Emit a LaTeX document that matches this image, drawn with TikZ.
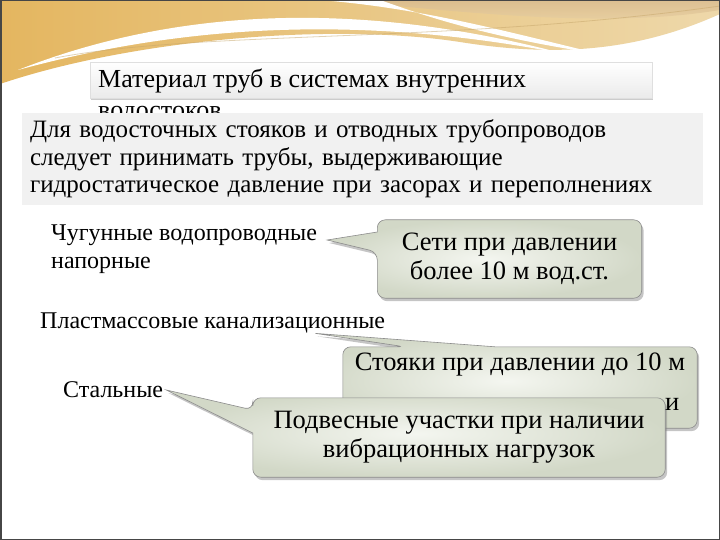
\documentclass[tikz,border=0pt]{standalone}
\usepackage{fontspec}
\setmainfont{Liberation Serif}
\usetikzlibrary{shadows,backgrounds}

\definecolor{goldA}{RGB}{228,182,96}
\definecolor{goldB}{RGB}{238,216,170}
\definecolor{tanA}{RGB}{216,186,142}
\definecolor{noteC}{RGB}{241,241,241}
\definecolor{callA}{RGB}{244,246,240}
\definecolor{callB}{RGB}{210,216,199}
\definecolor{callL}{RGB}{140,140,140}

\begin{document}
\begin{tikzpicture}
  [x=1pt,y=-1pt,
   every node/.style={inner sep=0pt,font=\fontsize{25}{27.5}\selectfont},
   lbl/.style={anchor=west,align=left,font=\fontsize{24}{28}\selectfont},
   bubble/.style={draw=callL,line width=.6pt,inner color=callA,outer color=callB,
     drop shadow={shadow xshift=2pt,shadow yshift=-3pt,opacity=.45}},
   bubtext/.style={align=center,font=\fontsize{26.5}{29}\selectfont}]
  \useasboundingbox (0,0) rectangle (720,540);

  \begin{scope}[on background layer]
  \fill[white] (0,0) rectangle (720,540);
  % top waves
  \shade[left color=goldA,right color=goldB] (0,0) -- (720,0) -- (720,14)
    .. controls (640,50) and (560,58) .. (460,42) .. controls (330,22) and (130,40) .. (0,84) -- cycle;
  \shade[top color=tanA,bottom color=goldB,opacity=.8] (0,0) -- (720,0) -- (720,10)
    .. controls (600,30) and (450,10) .. (330,0) -- cycle;
  \fill[white] (18,70) .. controls (150,18) and (330,-8) .. (565,54)
    .. controls (330,8) and (150,34) .. (18,70) -- cycle;
  \fill[white] (320,0) .. controls (420,8) and (500,30) .. (600,54)
    .. controls (480,36) and (420,14) .. (380,0) -- cycle;
  \draw[goldA!70!gray,opacity=.5,line width=.8pt] (55,58) .. controls (200,30) and (450,44) .. (720,6);
  \end{scope}

  % title
  \node[minimum width=562pt,minimum height=36pt,top color=white,bottom color=gray!16,
    draw=gray!25,drop shadow={shadow xshift=1pt,shadow yshift=-2pt,opacity=.4}]
    (tbox) at (371,80) {};
  \node[anchor=north west,align=left,font=\fontsize{26}{31}\selectfont] (title) at (98,69)
    {Материал труб в системах внутренних\\водостоков};

  \node[minimum width=681pt,minimum height=92pt,fill=noteC,text width=665pt,
    inner xsep=8pt,align=left] (rule) at (362.5,159)
    {Для водосточных стояков и отводных трубопроводов\\
     следует принимать трубы, выдерживающие\\
     гидростатическое давление при засорах и переполнениях};

  % pipe kinds
  \node[lbl] (cast) at (51,249) {Чугунные водопроводные\\напорные};
  \node[lbl] (plast) at (40,323) {Пластмассовые канализационные};
  \node[lbl] (steel) at (63,390) {Стальные};

  % callouts
  \node[bubtext,minimum width=264pt,minimum height=78pt] (net) at (509.5,259)
    {Сети при давлении\\более 10 м вод.ст.};
  \node[bubtext,minimum width=354pt,minimum height=81pt] (riser) at (520,387.5)
    {Стояки при давлении до 10 м\\[22pt]};
  \node[bubtext,minimum width=412pt,minimum height=79pt] (hang) at (459,437.5)
    {Подвесные участки при наличии\\вибрационных нагрузок};
  \node[anchor=west,font=\fontsize{26.5}{29}\selectfont] (tail) at (665,404) {и};

  \begin{scope}[on background layer]
  \path[bubble] (net.west |- 0,232) [rounded corners=8pt] -- (net.north west)
    -- (net.north east) -- (net.south east) -- (net.south west)
    -- (net.west |- 0,252) [sharp corners] -- ([shift={(10,-9)}]cast.east) -- cycle;
  \path[bubble] (riser.north -| 495,0) [rounded corners=8pt] -- (riser.north east)
    -- (riser.south east) -- (riser.south west) -- (riser.north west)
    -- (riser.north -| 405,0) [sharp corners] -- ([xshift=-70pt]plast.south east) -- cycle;
  \path[bubble] (hang.west |- 0,433) [rounded corners=8pt] -- (hang.south west)
    -- (hang.south east) -- (hang.north east) -- (hang.north west)
    -- (hang.west |- 0,410) [sharp corners] -- ([xshift=3pt]steel.east) -- cycle;
  \end{scope}

  \draw[gray!55!black,line width=1.5pt] (0.75,0.75) rectangle (719.25,539.25);
\end{tikzpicture}
\end{document}
